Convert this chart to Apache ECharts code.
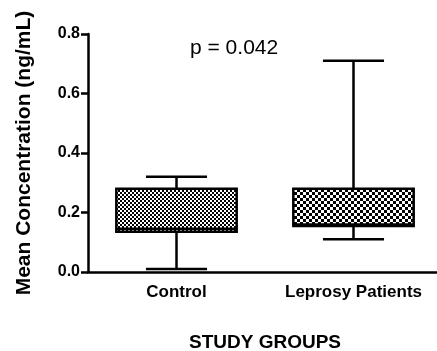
<!DOCTYPE html>
<html>
<head>
<meta charset="utf-8">
<script src="https://cdn.jsdelivr.net/npm/echarts@6/dist/echarts.min.js"></script>
<style>html,body{margin:0;padding:0;background:#fff;}#c{width:437px;height:351px;}</style>
</head>
<body>
<div id="c"></div>
<script>
var categories = ['Control', 'Leprosy Patients'];
var minVals = [0.01, 0.11];
var q1Vals = [0.135, 0.155];
var medianVals = [0.145, 0.16];
var q3Vals = [0.28, 0.28];
var maxVals = [0.32, 0.71];
var yTicks = [0.0, 0.2, 0.4, 0.6, 0.8];
var pText = 'p = 0.042';

function makeChecker(size) {
  var c = document.createElement('canvas');
  c.width = size * 2; c.height = size * 2;
  var ctx = c.getContext('2d');
  ctx.fillStyle = '#fff'; ctx.fillRect(0, 0, size * 2, size * 2);
  ctx.fillStyle = '#000';
  ctx.fillRect(0, 0, size, size);
  ctx.fillRect(size, size, size, size);
  return c;
}
var patterns = [
  { image: makeChecker(2), repeat: 'repeat' },
  { image: makeChecker(3), repeat: 'repeat' }
];

var data = categories.map(function (c, i) {
  return [i, minVals[i], q1Vals[i], medianVals[i], q3Vals[i], maxVals[i]];
});

var chart = echarts.init(document.getElementById('c'), null, { renderer: 'canvas' });
var font = 'Liberation Sans, Arial, sans-serif';
chart.setOption({
  animation: false,
  backgroundColor: '#fff',
  grid: { left: 88, top: 34, width: 354, height: 238, containLabel: false, outerBoundsMode: 'none' },
  xAxis: {
    type: 'category',
    data: categories,
    axisLine: { lineStyle: { color: '#000', width: 2.5 } },
    axisTick: { alignWithLabel: true, length: 7, lineStyle: { color: '#000', width: 2.5 } },
    axisLabel: { color: '#000', fontWeight: 'bold', fontSize: 17, fontFamily: font, margin: 12, interval: 0, hideOverlap: false },
    name: 'STUDY GROUPS',
    nameLocation: 'middle',
    nameGap: 61,
    nameTextStyle: { color: '#000', fontWeight: 'bold', fontSize: 19, fontFamily: font }
  },
  yAxis: {
    type: 'value',
    min: yTicks[0],
    max: yTicks[yTicks.length - 1],
    interval: 0.2,
    splitLine: { show: false },
    axisLine: { show: true, lineStyle: { color: '#000', width: 2.5 } },
    axisTick: { show: true, length: 7, lineStyle: { color: '#000', width: 2.5 } },
    axisLabel: { color: '#000', fontWeight: 'bold', fontSize: 16, fontFamily: font, margin: 8,
      formatter: function (v) { return v.toFixed(1); } },
    name: 'Mean Concentration (ng/mL)',
    nameLocation: 'middle',
    nameGap: 53,
    nameTextStyle: { color: '#000', fontWeight: 'bold', fontSize: 21, fontFamily: font }
  },
  graphic: [{
    type: 'text', left: 190, top: 38,
    style: { text: pText, fill: '#000', fontSize: 21, fontFamily: font }
  }],
  series: [{
    type: 'custom',
    data: data,
    encode: { x: 0, y: [1, 2, 3, 4, 5] },
    renderItem: function (params, api) {
      var idx = api.value(0);
      var band = api.size([1, 0])[0];
      var bw = band * 0.68, cw = band * 0.345;
      var pMin = api.coord([idx, api.value(1)]);
      var pQ1 = api.coord([idx, api.value(2)]);
      var pMed = api.coord([idx, api.value(3)]);
      var pQ3 = api.coord([idx, api.value(4)]);
      var pMax = api.coord([idx, api.value(5)]);
      var x = pMin[0];
      var ls = { stroke: '#000', lineWidth: 2.5 };
      return {
        type: 'group',
        children: [
          { type: 'line', shape: { x1: x, y1: pMax[1], x2: x, y2: pQ3[1] }, style: ls },
          { type: 'line', shape: { x1: x, y1: pQ1[1], x2: x, y2: pMin[1] }, style: ls },
          { type: 'line', shape: { x1: x - cw / 2, y1: pMax[1], x2: x + cw / 2, y2: pMax[1] }, style: ls },
          { type: 'line', shape: { x1: x - cw / 2, y1: pMin[1], x2: x + cw / 2, y2: pMin[1] }, style: ls },
          { type: 'rect', shape: { x: x - bw / 2, y: pQ3[1], width: bw, height: pQ1[1] - pQ3[1] },
            style: { fill: patterns[params.dataIndex], stroke: '#000', lineWidth: 2.5 } },
          { type: 'line', shape: { x1: x - bw / 2, y1: pMed[1], x2: x + bw / 2, y2: pMed[1] }, style: ls }
        ]
      };
    }
  }]
});
</script>
</body>
</html>
